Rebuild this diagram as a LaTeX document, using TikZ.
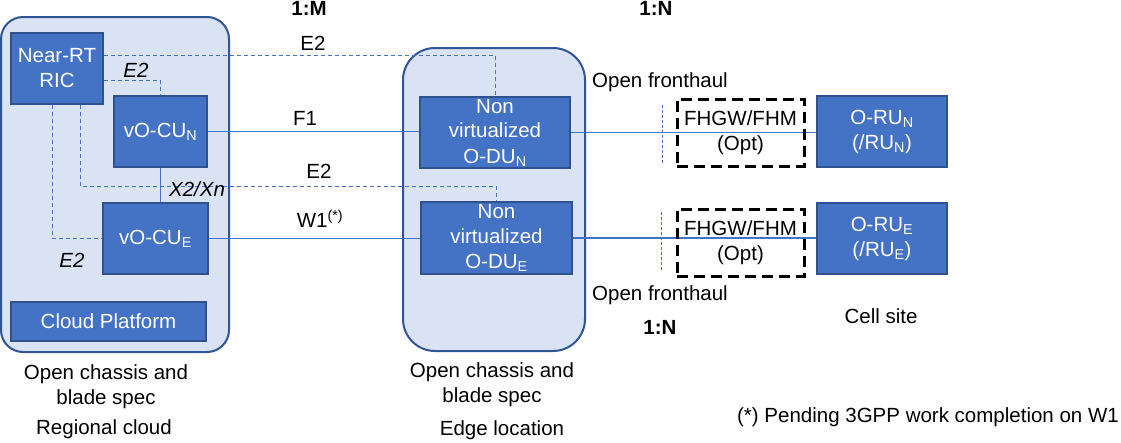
\documentclass[tikz,border=0pt]{standalone}
\usepackage{fontspec}
\setmainfont{Liberation Sans}
\definecolor{boxblue}{HTML}{4472C4}
\definecolor{boxedge}{HTML}{2F528F}
\definecolor{contfill}{HTML}{DAE3F3}
\definecolor{contedge}{HTML}{2F5597}
\definecolor{lineblue}{HTML}{4472C4}
\begin{document}
\begin{tikzpicture}[x=1pt,y=-1pt, font=\fontsize{20.5}{25}\selectfont,
  box/.style={draw=boxedge, fill=boxblue, line width=2pt, text=white, inner sep=0pt, align=center},
  cont/.style={draw=contedge, fill=contfill, line width=2pt, inner sep=0pt},
  dline/.style={draw=lineblue, line width=1pt, dash pattern=on 4pt off 3pt},
  fline/.style={draw=lineblue, line width=0.9pt, dash pattern=on 3pt off 2pt},
  sline/.style={draw=lineblue, line width=1.2pt},
  fhbox/.style={draw=black, line width=3pt, dash pattern=on 11pt off 6pt, inner sep=0pt, align=center},
  lbl/.style={inner sep=0pt, align=center}]
\useasboundingbox (0,0) rectangle (1121,442);
% containers
\node[cont, rounded corners=22pt, minimum width=228pt, minimum height=335pt] (regional) at (115,184.5) {};
\node[cont, rounded corners=32pt, minimum width=182pt, minimum height=303pt] (edge) at (494,199.5) {};
% boxes
\node[box, minimum width=92pt, minimum height=71pt] (ric) at (57,68.5) {Near-RT\\RIC};
\node[box, minimum width=93pt, minimum height=71pt] (cun) at (160.5,131.5) {vO-CU\textsubscript{N}};
\node[box, minimum width=105pt, minimum height=71pt] (cue) at (155.5,238.5) {vO-CU\textsubscript{E}};
\node[box, minimum width=195pt, minimum height=39pt] (cloud) at (108.5,321.5) {Cloud Platform};
\node[box, minimum width=150pt, minimum height=71pt] (odun) at (495,132.5) {Non\\virtualized\\O-DU\textsubscript{N}};
\node[box, minimum width=151pt, minimum height=72pt] (odue) at (496.5,238) {Non\\virtualized\\O-DU\textsubscript{E}};
\node[box, minimum width=130pt, minimum height=71pt] (orun) at (882,131.5) {O-RU\textsubscript{N}\\(/RU\textsubscript{N})};
\node[box, minimum width=130pt, minimum height=71pt] (orue) at (882,238.5) {O-RU\textsubscript{E}\\(/RU\textsubscript{E})};
% connectors
\coordinate (j1) at (0,186);
\draw[dline] ([yshift=-23pt]ric.north east) -| (odun.north);
\draw[dline] ([yshift=-48pt]ric.north east) -| (cun.north);
\draw[dline] ([xshift=-24pt]ric.south east) |- (odue.north |- j1) -- (odue.north);
\draw[dline] ([xshift=-5pt]ric.south) |- (cue.west);
\draw[sline] (cun.south) -- (cun.south |- cue.north);
\draw[sline] (cun.east) -- (cun.east -| odun.west);
\draw[sline] (cue.east) -- (cue.east -| odue.west);
\draw[sline] (odun.east) -- (odun.east -| orun.west);
\draw[sline] (odue.east) -- (odue.east -| orue.west);
% fronthaul marks
\coordinate (fa1) at (662,105);
\coordinate (fa2) at (662,165);
\coordinate (fb1) at (661,212);
\coordinate (fb2) at (661,272);
\draw[fline] (fa1) -- (fa2);
\draw[fline] (fb1) -- (fb2);
% FHGW boxes
\node[fhbox, minimum width=127pt, minimum height=67pt] (fhn) at (740.5,132.5) {FHGW/FHM\\(Opt)};
\node[fhbox, minimum width=127pt, minimum height=67pt] (fhe) at (740.5,242.5) {FHGW/FHM\\(Opt)};
% labels
\node[lbl, font=\fontsize{20.5}{25}\selectfont\bfseries] (m1) at (309,8) {1:M};
\node[lbl, font=\fontsize{20.5}{25}\selectfont\bfseries] (n1) at (656,8) {1:N};
\node[lbl, font=\fontsize{20.5}{25}\selectfont\bfseries] (n2) at (660,327) {1:N};
\node[lbl] (le2a) at (313,43) {E2};
\node[lbl, font=\fontsize{20.5}{25}\selectfont\itshape] (le2b) at (136,70) {E2};
\node[lbl] (lf1) at (305,118) {F1};
\node[lbl] (le2c) at (319,171) {E2};
\node[lbl, font=\fontsize{20.5}{25}\selectfont\itshape] (lx2) at (197,189) {X2/Xn};
\node[lbl] (lw1) at (320,219) {W1\textsuperscript{(*)}};
\node[lbl, font=\fontsize{20.5}{25}\selectfont\itshape] (le2d) at (72,260) {E2};
\node[lbl] (ofh1) at (660,82) {Open fronthaul};
\node[lbl] (ofh2) at (660,295) {Open fronthaul};
\node[lbl] (cell) at (881,316) {Cell site};
\node[lbl] (reg1) at (106,387) {Open chassis and\\blade spec};
\node[lbl] (reg2) at (104,429) {Regional cloud};
\node[lbl] (edg1) at (492,385) {Open chassis and\\blade spec};
\node[lbl] (edg2) at (502,430) {Edge location};
\node[lbl] (foot) at (928,417) {(*) Pending 3GPP work completion on W1};
\end{tikzpicture}
\end{document}
